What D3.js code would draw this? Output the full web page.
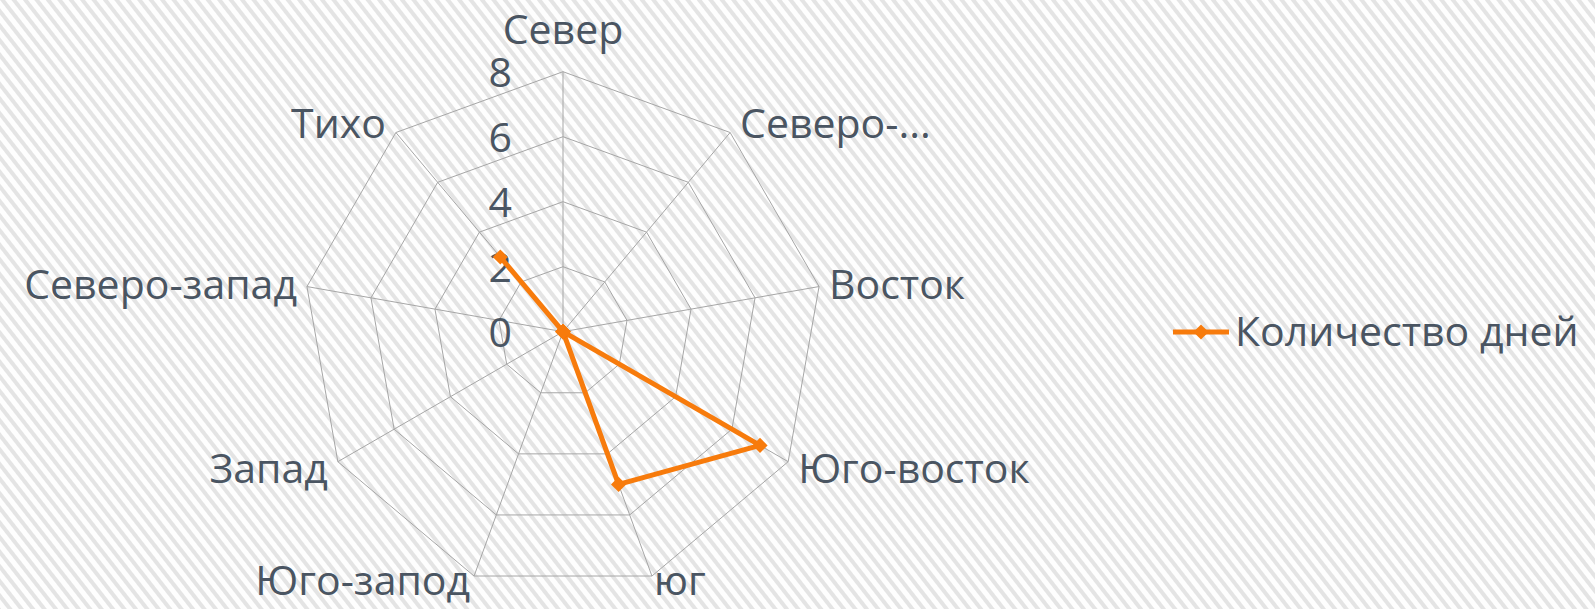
<!DOCTYPE html>
<html lang="ru">
<head>
    <meta charset="UTF-8">
    <title>Количество дней</title>
    <script src="https://d3js.org/d3.v7.min.js"></script>
    <style>
        body {
            margin: 0;
            padding: 0;
            background: #fff;
            overflow: hidden;
        }
        .grid {
            fill: none;
            stroke: #a6a6a6;
            stroke-width: 1px;
        }
        .lbl {
            font-family: 'Open Sans', sans-serif;
            font-size: 41px;
            fill: #4a5562;
        }
    </style>
</head>
<body>
    <div id="chart"></div>
    <script>
        // данные
        const categories = ["Север", "Северо-...", "Восток", "Юго-восток", "юг", "Юго-запод", "Запад", "Северо-запад", "Тихо"];
        const days = [0, 0, 0, 7, 5, 0, 0, 0, 3];
        const tickValues = [0, 2, 4, 6, 8];
        const seriesName = "Количество дней";

        const width = 1595;
        const height = 609;
        const cx = 563;
        const cy = 331.7;
        const orange = "#f77b0c";

        const svg = d3.select("#chart")
            .append("svg")
            .attr("width", width)
            .attr("height", height);

        // фон в косую полоску
        const defs = svg.append("defs");
        const pat = defs.append("pattern")
            .attr("id", "stripes")
            .attr("patternUnits", "userSpaceOnUse")
            .attr("width", 9)
            .attr("height", 20)
            .attr("patternTransform", "rotate(-38)");
        pat.append("rect").attr("width", 9).attr("height", 20).attr("fill", "#fefefe");
        pat.append("rect").attr("width", 4).attr("height", 20).attr("fill", "#e4e4e4");

        svg.append("rect")
            .attr("width", width)
            .attr("height", height)
            .attr("fill", "url(#stripes)");

        const r = d3.scaleLinear().domain([0, 8]).range([0, 260]);
        const angle = d3.scaleLinear().domain([0, categories.length]).range([0, 2 * Math.PI]);

        const g = svg.append("g").attr("transform", `translate(${cx},${cy})`);

        // кольца сетки
        const ring = d3.lineRadial()
            .angle((d, i) => angle(i))
            .radius(d => r(d))
            .curve(d3.curveLinearClosed);

        g.selectAll(".ring")
            .data(tickValues.filter(v => v > 0))
            .enter()
            .append("path")
            .attr("class", "grid")
            .attr("d", v => ring(categories.map(() => v)));

        // оси
        g.selectAll(".spoke")
            .data(categories)
            .enter()
            .append("line")
            .attr("class", "grid")
            .attr("x1", 0).attr("y1", 0)
            .attr("x2", (d, i) => r(8) * Math.sin(angle(i)))
            .attr("y2", (d, i) => -r(8) * Math.cos(angle(i)));

        // подписи шкалы
        g.selectAll(".tick")
            .data(tickValues)
            .enter()
            .append("text")
            .attr("class", "lbl")
            .attr("x", -51)
            .attr("y", v => -r(v) + 15)
            .attr("text-anchor", "end")
            .text(v => v);

        // подписи категорий
        g.selectAll(".cat")
            .data(categories)
            .enter()
            .append("text")
            .attr("class", "lbl")
            .each(function (d, i) {
                const a = angle(i);
                const s = Math.sin(a), c = Math.cos(a);
                const vx = r(8) * s, vy = -r(8) * c;
                const t = d3.select(this);
                if (Math.abs(s) < 0.01) {
                    t.attr("x", vx).attr("y", vy - 28).attr("text-anchor", "middle");
                } else if (c < -0.9) {
                    t.attr("x", vx + (s > 0 ? 2 : -4)).attr("y", vy + 19)
                        .attr("text-anchor", s > 0 ? "start" : "end");
                } else {
                    t.attr("x", vx + (s > 0 ? 10 : -10)).attr("y", vy - 12 * c + 15)
                        .attr("text-anchor", s > 0 ? "start" : "end");
                }
            })
            .text(d => d);

        // серия
        const line = d3.lineRadial()
            .angle((d, i) => angle(i))
            .radius(d => r(d))
            .curve(d3.curveLinearClosed);

        g.append("path")
            .attr("d", line(days))
            .attr("fill", "none")
            .attr("stroke", orange)
            .attr("stroke-width", 5)
            .attr("stroke-linejoin", "round");

        const diamond = d3.symbol().type(d3.symbolSquare).size(115);

        g.selectAll(".pt")
            .data(days)
            .enter()
            .append("path")
            .attr("d", diamond)
            .attr("fill", orange)
            .attr("transform", (d, i) =>
                `translate(${r(d) * Math.sin(angle(i))},${-r(d) * Math.cos(angle(i))}) rotate(45)`);

        // легенда
        const lg = svg.append("g").attr("transform", "translate(1173,332)");
        lg.append("line")
            .attr("x1", 0).attr("x2", 56)
            .attr("stroke", orange).attr("stroke-width", 5);
        lg.append("path")
            .attr("d", diamond)
            .attr("fill", orange)
            .attr("transform", "translate(28,0) rotate(45)");
        lg.append("text")
            .attr("class", "lbl")
            .attr("x", 62)
            .attr("y", 14)
            .text(seriesName);
    </script>
</body>
</html>
